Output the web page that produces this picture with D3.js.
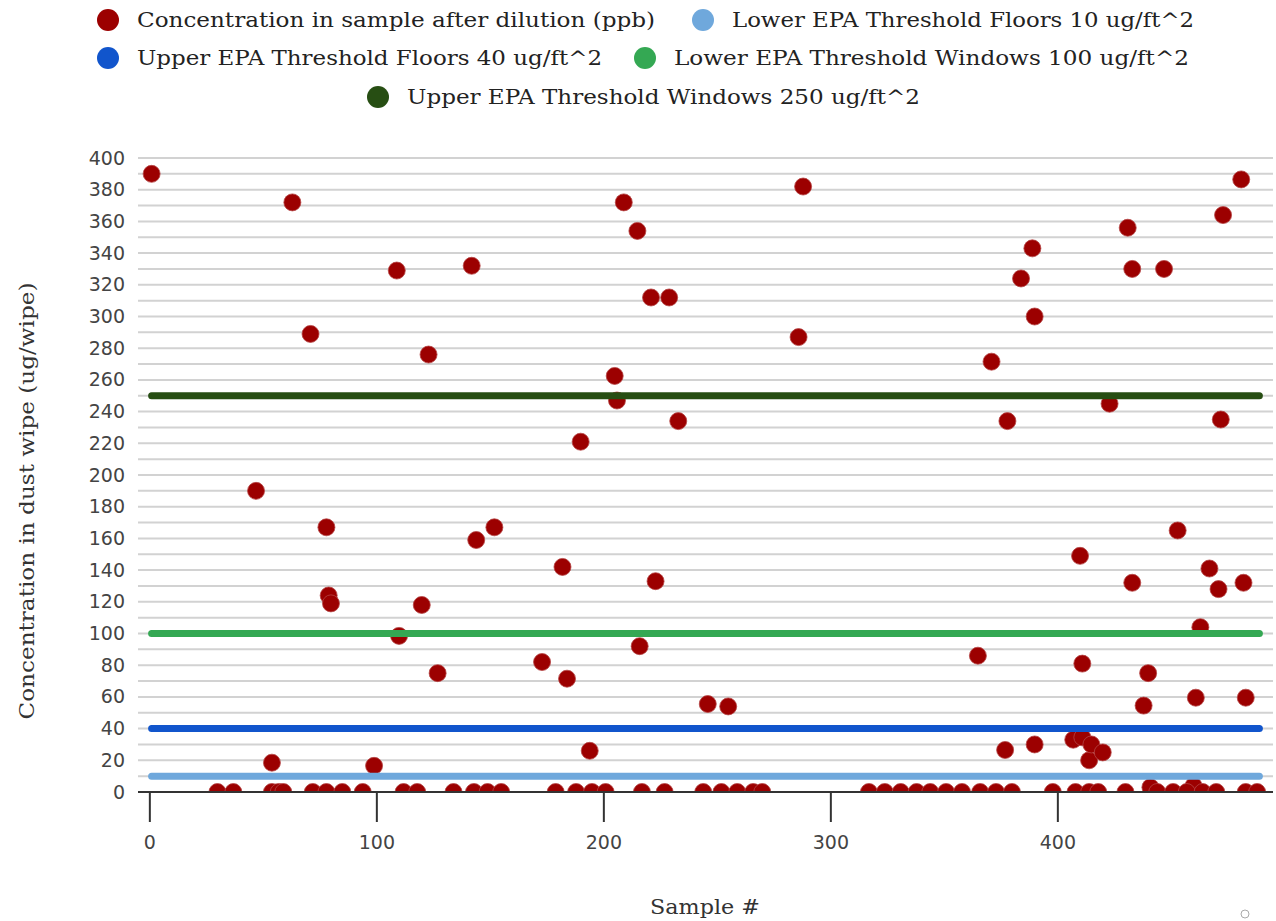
<!DOCTYPE html>
<html>
<head>
<meta charset="utf-8">
<script src="https://cdn.jsdelivr.net/npm/d3@7"></script>
<style>
  html, body { margin: 0; padding: 0; background: #fff; }
  svg { display: block; }
</style>
</head>
<body>
<div id="chart"></div>
<script>
// ---------------- DATA ----------------
const pointSamples = [
  1, 47, 54, 63, 71, 78, 79, 80, 99, 109, 110, 120, 123, 127, 142, 144, 152,
  173, 182, 184, 190, 194, 205, 206, 209, 215, 216, 221, 223, 229, 233, 246, 255,
  286, 288, 365, 371, 377, 378, 384, 389, 390, 390, 407, 410, 411, 411, 414, 415,
  420, 423, 431, 433, 433, 438, 440, 441, 447, 453, 460, 461, 463, 467, 471, 472,
  473, 481, 482, 483,
  // samples at zero
  30, 37, 54, 57, 59, 72, 78, 85, 94, 112, 118, 134, 143, 149, 155, 179, 188, 195,
  201, 217, 227, 244, 252, 259, 266, 270, 317, 324, 331, 338, 344, 351, 358, 366,
  373, 380, 398, 408, 414, 418, 430, 444, 451, 457, 464, 470, 483, 488
];
const pointValues = [
  390, 190, 18.5, 372, 289, 167, 124, 119, 16.5, 329, 98.5, 118, 276, 75, 332, 159, 167,
  82, 142, 71.5, 221, 26, 262.5, 247, 372, 354, 92, 312, 133, 312, 234, 55.5, 54,
  287, 382, 86, 271.5, 26.5, 234, 324, 343, 300, 30, 33, 149, 34.5, 81, 20, 30,
  25, 245, 356, 132, 330, 54.5, 75, 3, 330, 165, 4, 59.5, 104, 141, 128, 235,
  364, 386.5, 132, 59.5,
  0, 0, 0, 0, 0, 0, 0, 0, 0, 0, 0, 0, 0, 0, 0, 0, 0, 0,
  0, 0, 0, 0, 0, 0, 0, 0, 0, 0, 0, 0, 0, 0, 0, 0,
  0, 0, 0, 0, 0, 0, 0, 0, 0, 0, 0, 0, 0, 0
];
const pointSeriesName = "Concentration in sample after dilution (ppb)";

const thresholdNames = [
  "Lower EPA Threshold Floors 10 ug/ft^2",
  "Upper EPA Threshold Floors 40 ug/ft^2",
  "Lower EPA Threshold Windows 100 ug/ft^2",
  "Upper EPA Threshold Windows 250 ug/ft^2"
];
const thresholdValues = [10, 40, 100, 250];
const thresholdSampleRange = [1, 489];

const yTickValues = [0, 20, 40, 60, 80, 100, 120, 140, 160, 180, 200, 220, 240, 260, 280, 300, 320, 340, 360, 380, 400];
const xTickValues = [0, 100, 200, 300, 400];
const yAxisTitle = "Concentration in dust wipe (ug/wipe)";
const xAxisTitle = "Sample #";

// ---------------- STYLE ----------------
const pointColor = "#9c0000";
const thresholdColors = ["#6fa8dc", "#1155cc", "#34a853", "#274e13"];

const W = 1276, H = 921;
const svg = d3.select("#chart").append("svg").attr("width", W).attr("height", H);

const x = d3.scaleLinear().domain([-5, 495]).range([138, 1273]);
const y = d3.scaleLinear().domain([0, 400]).range([792, 158]);

const defs = svg.append("defs");
defs.append("clipPath").attr("id", "plotclip")
  .attr("clipPathUnits", "userSpaceOnUse")
  .append("rect")
  .attr("x", x.range()[0]).attr("y", y.range()[1] - 20)
  .attr("width", x.range()[1] - x.range()[0])
  .attr("height", y.range()[0] - y.range()[1] + 20);

// gridlines every 10
svg.append("g").selectAll("line")
  .data(d3.range(10, 401, 10))
  .join("line")
  .attr("x1", x.range()[0]).attr("x2", x.range()[1])
  .attr("y1", d => y(d)).attr("y2", d => y(d))
  .attr("stroke", "#d2d2d2").attr("stroke-width", 2);

const pts = pointSamples.map((s, i) => ({ s, v: pointValues[i] }));

svg.append("g").attr("clip-path", "url(#plotclip)")
  .selectAll("circle")
  .data(pts)
  .join("circle")
  .attr("cx", d => x(d.s))
  .attr("cy", d => y(d.v))
  .attr("r", 8.5)
  .attr("fill", pointColor)
  .attr("stroke", "#b54545")
  .attr("stroke-width", 0.8);

// mask area below the plot (keeps zero points as half discs)
svg.append("rect")
  .attr("x", x.range()[0] - 10).attr("y", y(0))
  .attr("width", x.range()[1] - x.range()[0] + 20).attr("height", 30)
  .attr("fill", "#fff");

// threshold lines
const line = d3.line().x(d => x(d[0])).y(d => y(d[1]));
svg.append("g").selectAll("path")
  .data(thresholdValues.map((v, i) => ({ v, i })))
  .join("path")
  .attr("d", d => line([[thresholdSampleRange[0], d.v], [thresholdSampleRange[1], d.v]]))
  .attr("stroke", d => thresholdColors[d.i])
  .attr("stroke-width", 7)
  .attr("stroke-linecap", "round")
  .attr("fill", "none");

// baseline
svg.append("line")
  .attr("x1", x.range()[0]).attr("x2", x.range()[1])
  .attr("y1", y(0)).attr("y2", y(0))
  .attr("stroke", "#333").attr("stroke-width", 2);

// y axis
const yAxis = svg.append("g")
  .attr("transform", `translate(${x.range()[0]},0)`)
  .call(d3.axisLeft(y).tickValues(yTickValues).tickSize(0).tickPadding(13));
yAxis.select(".domain").remove();
yAxis.selectAll("text")
  .attr("font-family", "DejaVu Sans, sans-serif")
  .attr("font-size", 19)
  .attr("fill", "#444");

// x axis
const xAxis = svg.append("g")
  .attr("transform", `translate(0,${y(0)})`)
  .call(d3.axisBottom(x).tickValues(xTickValues).tickSize(30).tickPadding(14));
xAxis.select(".domain").remove();
xAxis.selectAll(".tick line").attr("stroke", "#333").attr("stroke-width", 2);
xAxis.selectAll("text")
  .attr("font-family", "DejaVu Sans, sans-serif")
  .attr("font-size", 19)
  .attr("fill", "#444");

// axis titles
svg.append("text")
  .attr("transform", "translate(27,501) rotate(-90)")
  .attr("text-anchor", "middle")
  .attr("dy", "0.35em")
  .attr("font-family", "DejaVu Serif, serif")
  .attr("font-size", 20)
  .attr("fill", "#333")
  .attr("textLength", 437)
  .attr("lengthAdjust", "spacingAndGlyphs")
  .text(yAxisTitle);

svg.append("text")
  .attr("x", 705).attr("y", 907)
  .attr("text-anchor", "middle")
  .attr("dy", "0.35em")
  .attr("font-family", "DejaVu Serif, serif")
  .attr("font-size", 21)
  .attr("fill", "#333")
  .attr("textLength", 110)
  .attr("lengthAdjust", "spacingAndGlyphs")
  .text(xAxisTitle);

// legend
const legendItems = [
  { name: pointSeriesName, color: pointColor, cx: 108, cy: 20, w: 518 },
  { name: thresholdNames[0], color: thresholdColors[0], cx: 703, cy: 20, w: 462 },
  { name: thresholdNames[1], color: thresholdColors[1], cx: 108, cy: 58, w: 465 },
  { name: thresholdNames[2], color: thresholdColors[2], cx: 645, cy: 58, w: 515 },
  { name: thresholdNames[3], color: thresholdColors[3], cx: 378, cy: 97, w: 513 }
];
const lg = svg.append("g").selectAll("g").data(legendItems).join("g");
lg.append("circle")
  .attr("cx", d => d.cx).attr("cy", d => d.cy).attr("r", 11)
  .attr("fill", d => d.color);
lg.append("text")
  .attr("x", d => d.cx + 29).attr("y", d => d.cy)
  .attr("dy", "0.35em")
  .attr("font-family", "DejaVu Serif, serif")
  .attr("font-size", 20)
  .attr("fill", "#222")
  .attr("textLength", d => d.w)
  .attr("lengthAdjust", "spacingAndGlyphs")
  .text(d => d.name);

// small corner mark
svg.append("circle")
  .attr("cx", 1245).attr("cy", 914).attr("r", 4)
  .attr("fill", "none").attr("stroke", "#aaa").attr("stroke-width", 1);
</script>
</body>
</html>
